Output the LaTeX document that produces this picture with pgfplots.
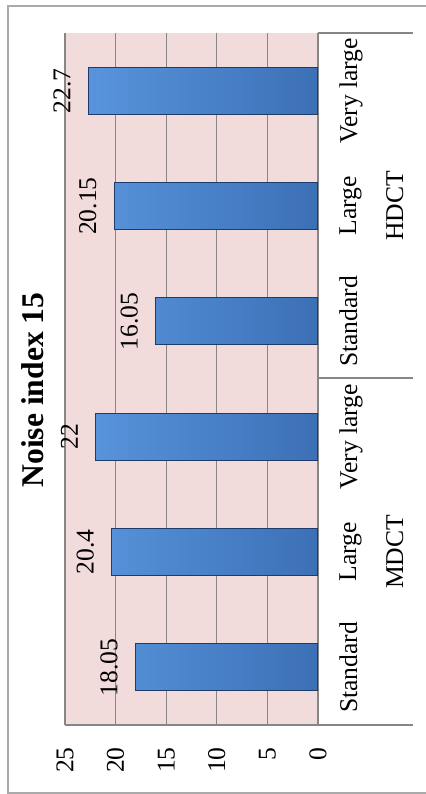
\documentclass[border=0pt]{standalone}
\usepackage{pgfplots}
\pgfplotsset{compat=1.18}
\usepackage{fontspec}
\setmainfont{Liberation Serif}

\definecolor{plotbg}{RGB}{242,220,219}
\definecolor{gridgray}{RGB}{134,134,134}
\definecolor{framegray}{RGB}{170,170,170}
\definecolor{barlight}{RGB}{88,148,220}
\definecolor{barmid}{RGB}{72,132,206}
\definecolor{bardark}{RGB}{60,112,182}
\definecolor{baredge}{RGB}{30,60,105}

\begin{document}
\begin{tikzpicture}[x=1pt,y=1pt]
  % page size and outer frame
  \path[use as bounding box] (0,0) rectangle (213,397);
  \draw[framegray, line width=0.6pt] (213,394) -- (4,394) -- (4,0.5) -- (213,0.5);

  \begin{axis}[
      at={(32.5pt,34.5pt)}, anchor=south west,
      scale only axis, width=126.5pt, height=346pt,
      xbar, bar width=23.5pt, bar shift=0pt,
      x dir=reverse,
      xmin=0, xmax=25, ymin=-0.5, ymax=5.5,
      xtick={0,5,10,15,20,25},
      ytick={0,1,2,3,4,5},
      yticklabel pos=right,
      yticklabels={Standard,{Large\\MDCT},Very large,Standard,{Large\\HDCT},Very large},
      axis background/.style={fill=plotbg},
      axis line style={draw=none},
      major tick length=0pt,
      xmajorgrids, major grid style={gridgray, line width=0.6pt},
      xticklabel style={rotate=90, anchor=east, inner xsep=11pt, inner ysep=0pt,
        font=\fontsize{12.8}{15}\selectfont},
      /pgf/number format/assume math mode=true,
      yticklabel style={rotate=90, anchor=north, align=center, inner ysep=10.5pt,
        font=\fontsize{12.8}{23.5}\selectfont},
      nodes near coords,
      point meta=explicit symbolic,
      every node near coord/.style={rotate=90, anchor=south, inner ysep=8.5pt,
        inner xsep=0pt, font=\fontsize{12.8}{15}\selectfont, text=black},
      clip=false,
    ]
    \addplot[draw=baredge, line width=0.5pt,
             left color=barlight, middle color=barmid, right color=bardark]
      table[meta index=2] {
        x     y  label
        18.05 0  18.05
        20.4  1  20.4
        22    2  22
        16.05 3  16.05
        20.15 4  20.15
        22.7  5  22.7
      };
  \end{axis}

  % bottom edge and category group dividers
  \draw[gridgray, line width=0.6pt] (32.5,34.5) -- (206.5,34.5);
  \draw[gridgray, line width=0.6pt] (159,208) -- (206.5,208);
  \draw[gridgray, line width=0.6pt] (159,380.5) -- (206.5,380.5);

  % chart title
  \node[rotate=90, font=\bfseries\fontsize{15.8}{18}\selectfont] at (16.5,202) {Noise index 15};
\end{tikzpicture}
\end{document}
